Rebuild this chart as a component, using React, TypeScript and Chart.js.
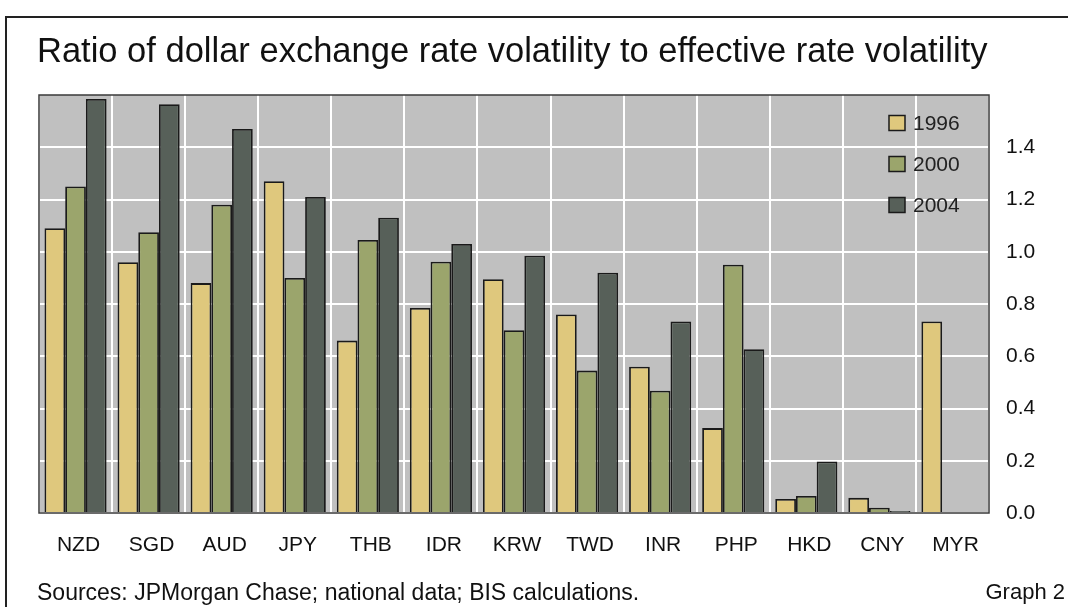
import React, { useEffect, useRef } from "react";
import { Chart, registerables } from "chart.js";

Chart.register(...registerables);

const categories = ["NZD", "SGD", "AUD", "JPY", "THB", "IDR", "KRW", "TWD", "INR", "PHP", "HKD", "CNY", "MYR"];
const seriesNames = ["1996", "2000", "2004"];
const values1996 = [1.09, 0.96, 0.88, 1.27, 0.66, 0.785, 0.895, 0.76, 0.56, 0.325, 0.054, 0.058, 0.733];
const values2000 = [1.25, 1.075, 1.18, 0.9, 1.045, 0.962, 0.70, 0.545, 0.468, 0.95, 0.065, 0.02, null];
const values2004 = [1.585, 1.565, 1.47, 1.21, 1.13, 1.03, 0.985, 0.92, 0.733, 0.627, 0.197, 0.008, null];
const yTickValues = [0, 0.2, 0.4, 0.6, 0.8, 1.0, 1.2, 1.4];
const yMax = 1.6;

const seriesColors = ["#DFC87D", "#9BA56C", "#576059"];
const FONT = "'Liberation Sans', Arial, sans-serif";

const plotDecor = {
  id: "plotDecor",
  beforeDraw(chart: any) {
    const { ctx, chartArea } = chart;
    ctx.save();
    ctx.fillStyle = "#C0C0C0";
    ctx.fillRect(chartArea.left, chartArea.top, chartArea.right - chartArea.left, chartArea.bottom - chartArea.top);
    ctx.restore();
  },
  afterDatasetsDraw(chart: any) {
    const { ctx, chartArea } = chart;
    ctx.save();
    ctx.strokeStyle = "#3a3a3a";
    ctx.lineWidth = 1.5;
    ctx.strokeRect(chartArea.left, chartArea.top, chartArea.right - chartArea.left, chartArea.bottom - chartArea.top);
    // legend inside plot, top-right
    const boxX = chartArea.right - 100;
    const textX = chartArea.right - 76;
    const rowsY = [28, 69, 110];
    ctx.font = `21px ${FONT}`;
    ctx.textBaseline = "middle";
    ctx.textAlign = "left";
    seriesNames.forEach((name, i) => {
      const cy = chartArea.top + rowsY[i];
      ctx.fillStyle = seriesColors[i];
      ctx.fillRect(boxX, cy - 7.5, 16, 15);
      ctx.strokeStyle = "#1a1a1a";
      ctx.lineWidth = 1.5;
      ctx.strokeRect(boxX, cy - 7.5, 16, 15);
      ctx.fillStyle = "#222";
      ctx.fillText(name, textX, cy + 1);
    });
    ctx.restore();
  },
};

function BarChart() {
  const ref = useRef<HTMLCanvasElement | null>(null);
  useEffect(() => {
    if (!ref.current) return;
    const series = [values1996, values2000, values2004];
    const chart = new Chart(ref.current, {
      type: "bar",
      data: {
        labels: categories,
        datasets: seriesNames.map((name, i) => ({
          label: name,
          data: series[i],
          backgroundColor: seriesColors[i],
          borderColor: "#1a1a1a",
          borderWidth: 1.8,
          categoryPercentage: 0.85,
          barPercentage: 1.0,
        })),
      },
      options: {
        responsive: false,
        animation: false,
        layout: { padding: { left: 39, top: 95, right: 0, bottom: 0 } },
        plugins: {
          legend: { display: false },
          title: { display: false },
          tooltip: { enabled: false },
        },
        scales: {
          x: {
            grid: { color: "#FFFFFF", lineWidth: 2, drawTicks: false, offset: true },
            border: { display: false },
            ticks: {
              color: "#111",
              font: { family: FONT, size: 21 },
              padding: 20,
              labelOffset: 3,
              maxRotation: 0,
              autoSkip: false,
            },
            afterFit(scale: any) {
              scale.height = 94;
            },
          },
          y: {
            position: "right",
            min: 0,
            max: yMax,
            grid: { color: "#FFFFFF", lineWidth: 2, drawTicks: false },
            border: { display: false },
            afterBuildTicks(scale: any) {
              scale.ticks = yTickValues.map((v) => ({ value: v }));
            },
            ticks: {
              color: "#111",
              font: { family: FONT, size: 21 },
              padding: 17,
              callback: (v: any) => Number(v).toFixed(1),
            },
            afterFit(scale: any) {
              scale.width = 79;
            },
          },
        },
      },
      plugins: [plotDecor],
    });
    return () => chart.destroy();
  }, []);
  return <canvas ref={ref} width={1068} height={607} style={{ display: "block" }} />;
}

export default function App() {
  return (
    <div style={{ position: "absolute", left: 0, top: 0, width: 1068, height: 607, background: "#fff", fontFamily: FONT, overflow: "hidden" }}>
      <BarChart />
      <div style={{ position: "absolute", left: 5, top: 16, width: 1063, height: 1.5, background: "#222" }} />
      <div style={{ position: "absolute", left: 5, top: 16, width: 1.5, height: 591, background: "#222" }} />
      <div style={{ position: "absolute", left: 37, top: 32.5, fontSize: 34.5, lineHeight: "34.5px", color: "#111", whiteSpace: "nowrap" }}>
        Ratio of dollar exchange rate volatility to effective rate volatility
      </div>
      <div style={{ position: "absolute", left: 37, top: 580.5, fontSize: 23, lineHeight: "23px", color: "#111", whiteSpace: "nowrap" }}>
        Sources: JPMorgan Chase; national data; BIS calculations.
      </div>
      <div style={{ position: "absolute", right: 3, top: 580.7, fontSize: 22, lineHeight: "22px", color: "#111", whiteSpace: "nowrap" }}>
        Graph 2
      </div>
    </div>
  );
}
